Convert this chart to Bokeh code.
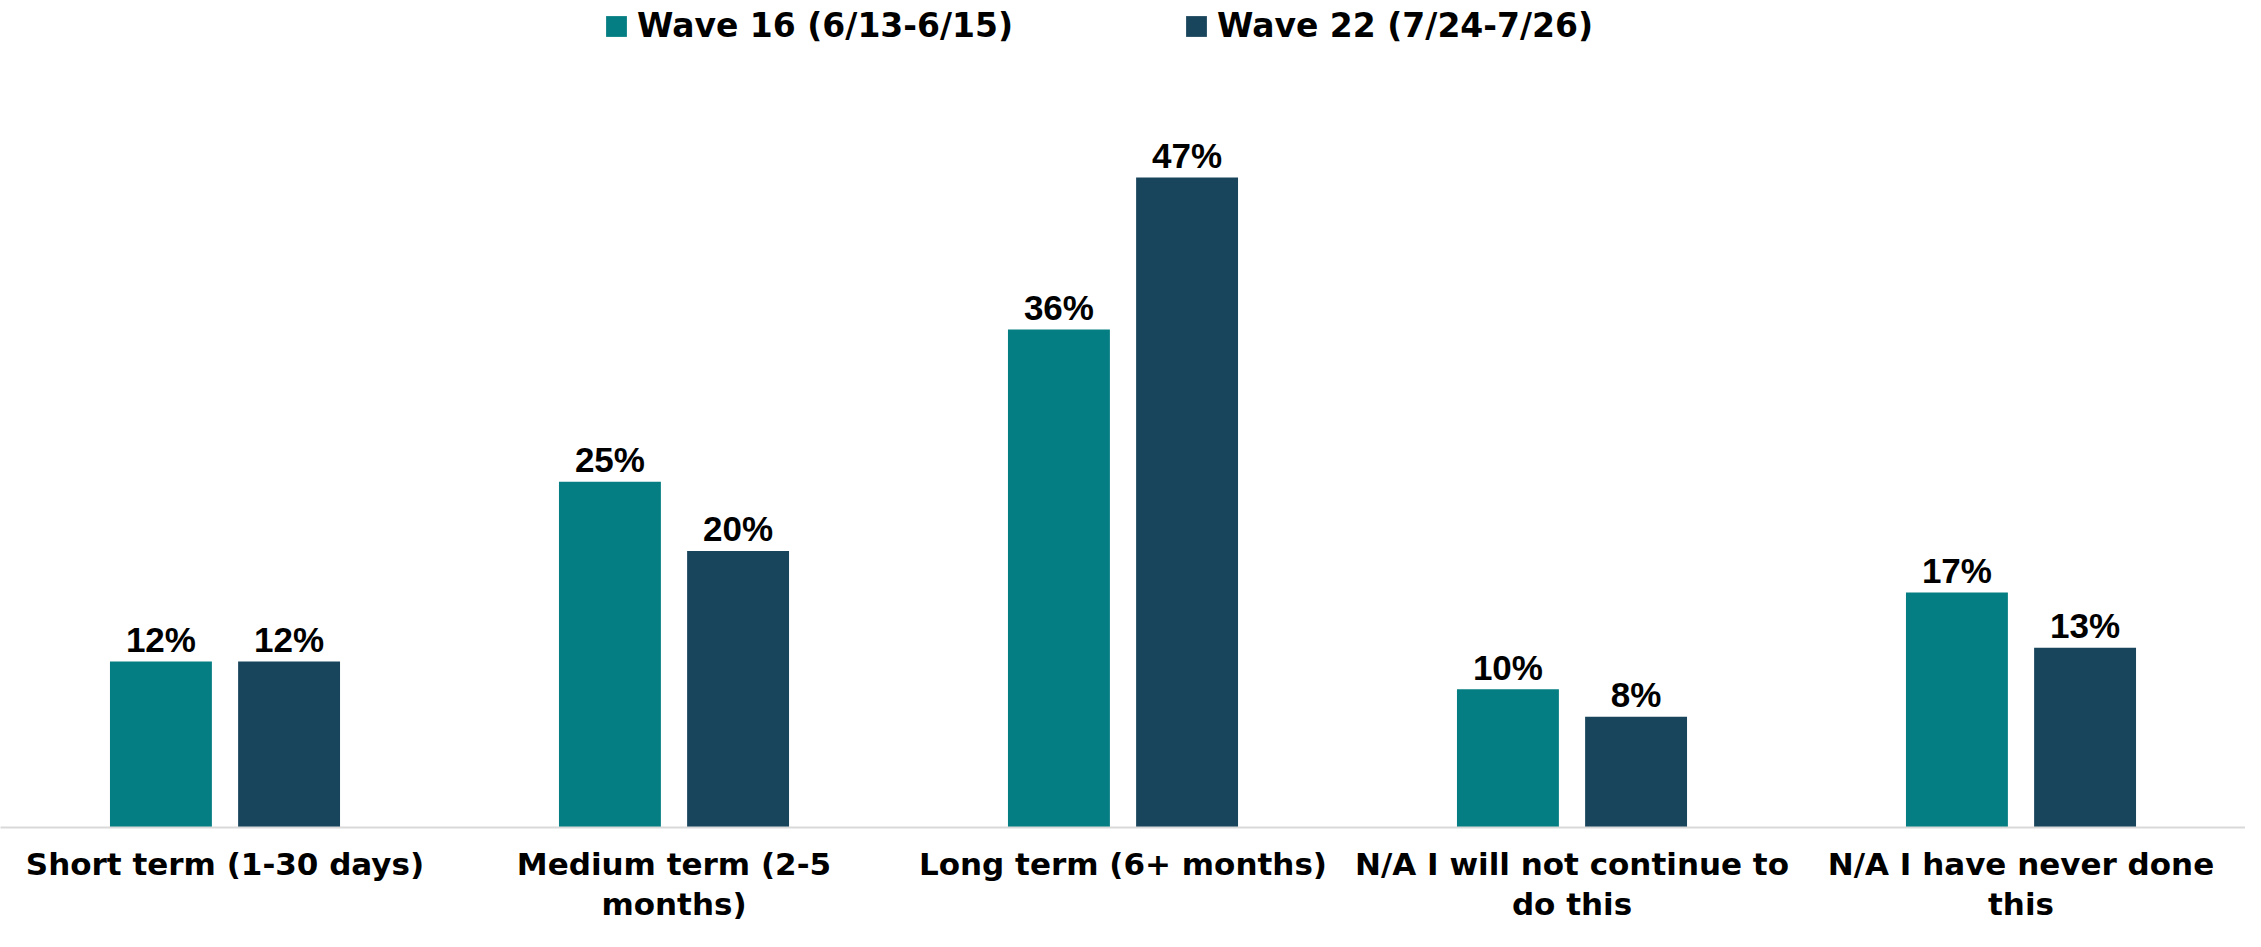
from bokeh.plotting import figure
from bokeh.models import ColumnDataSource, Range1d, FactorRange, Legend, LegendItem
from bokeh.transform import dodge
from bokeh.core.properties import value
from bokeh.embed import file_html
from bokeh.resources import INLINE

categories = ["Short term (1-30 days)", "Medium term (2-5\nmonths)", "Long term (6+ months)",
              "N/A I will not continue to\ndo this", "N/A I have never done\nthis"]
series_names = ["Wave 16 (6/13-6/15)", "Wave 22 (7/24-7/26)"]
wave16 = [12, 25, 36, 10, 17]
wave22 = [12, 20, 47, 8, 13]
colors = ["#047E82", "#19455C"]

src = ColumnDataSource(dict(
    cat=categories,
    w16=wave16,
    w22=wave22,
    l16=[f"{v}%" for v in wave16],
    l22=[f"{v}%" for v in wave22],
))

FW, FH = 2245, 827
p = figure(frame_width=FW, frame_height=FH, x_range=FactorRange(*categories),
           y_range=Range1d(0, FH / 13.83),
           output_backend="svg", toolbar_location=None, y_axis_location=None,
           min_border_left=0, min_border_right=0, min_border_top=0, min_border_bottom=0)
p.outline_line_color = None
p.xgrid.visible = False
p.ygrid.visible = False
p.background_fill_color = "white"
p.border_fill_color = "white"

bw = 0.227
off = 0.1427
r1 = p.vbar(x=dodge("cat", -off, range=p.x_range), top="w16", width=bw, source=src,
            fill_color=colors[0], line_color=None)
r2 = p.vbar(x=dodge("cat", off, range=p.x_range), top="w22", width=bw, source=src,
            fill_color=colors[1], line_color=None)

for col, lab, dx in (("w16", "l16", -off), ("w22", "l22", off)):
    p.text(x=dodge("cat", dx, range=p.x_range), y=col, text=lab, source=src,
           text_align="center", text_baseline="alphabetic", y_offset=-22,
           text_font=value("Liberation Sans"), text_font_style="bold",
           text_font_size="35px", text_color="black")

ax = p.xaxis[0]
ax.axis_line_color = "#d9d9d9"
ax.axis_line_width = 2
ax.major_tick_line_color = None
ax.minor_tick_line_color = None
ax.major_label_text_font = "DejaVu Sans"
ax.major_label_text_font_style = "bold"
ax.major_label_text_font_size = "31px"
ax.major_label_text_color = "black"
ax.major_label_text_line_height = 1.12
ax.major_label_standoff = 12
ax.major_label_orientation = "horizontal"

for r, name, x in ((r1, series_names[0], 603), (r2, series_names[1], 1183)):
    lg = Legend(items=[LegendItem(label=name, renderers=[r])], location=(x, FH - 45),
                orientation="horizontal", padding=0, margin=0, spacing=0,
                glyph_width=26, glyph_height=26, label_standoff=8,
                label_text_font="DejaVu Sans", label_text_font_style="bold",
                label_text_font_size="33px", label_text_color="black",
                border_line_color=None, background_fill_alpha=0)
    p.add_layout(lg, "center")

open("out.html", "w").write(file_html(p, INLINE))
